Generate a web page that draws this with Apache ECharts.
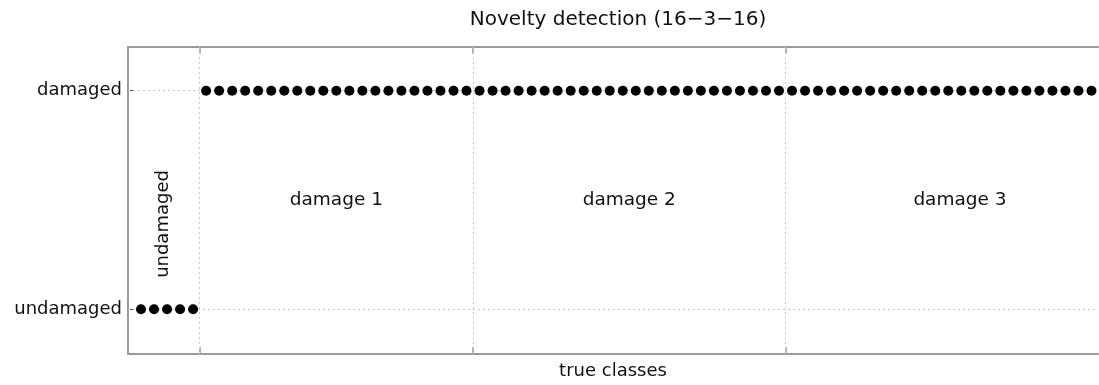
<!DOCTYPE html>
<html>
<head>
<meta charset="utf-8">
<script src="https://cdn.jsdelivr.net/npm/echarts@6/dist/echarts.min.js"></script>
<style>html,body{margin:0;padding:0;background:#fff}#c{width:1099px;height:385px}</style>
</head>
<body>
<div id="c"></div>
<script>
// Data
var titleText = 'Novelty detection (16\u22123\u221216)';
var xAxisName = 'true classes';
var yTickLabels = ['undamaged', 'damaged'];
var yTickValues = [0, 1];
var classNames = ['undamaged', 'damage 1', 'damage 2', 'damage 3'];
var classCounts = [5, 21, 24, 24];
var classBoundaries = [5.5, 26.5, 50.5];
var classLabelX = [2.75, 16, 38.5, 63.9];
var classLabelY = [0.39, 0.5, 0.5, 0.5];
// predicted class (0 = undamaged, 1 = damaged) for each sample 1..74
var predicted = [
  0,0,0,0,0,
  1,1,1,1,1,1,1,1,1,1,1,1,1,1,1,1,1,1,1,1,1,
  1,1,1,1,1,1,1,1,1,1,1,1,1,1,1,1,1,1,1,1,1,1,1,1,
  1,1,1,1,1,1,1,1,1,1,1,1,1,1,1,1,1,1,1,1,1,1,1,1
];

var pts = predicted.map(function (v, i) { return [i + 1, v]; });
var axisGray = '#9a9a9a';
var textColor = '#111';
var font = 'DejaVu Sans';

var gridLines = classBoundaries.map(function (b) { return { xAxis: b }; })
  .concat(yTickValues.map(function (v) { return { yAxis: v }; }));

var chart = echarts.init(document.getElementById('c'));
chart.setOption({
  animation: false,
  title: {
    text: titleText, left: 613, top: 5, textAlign: 'center',
    textStyle: { fontFamily: font, fontSize: 20, fontWeight: 'normal', color: textColor }
  },
  grid: { left: 128, top: 47, right: 1, bottom: 30 },
  xAxis: [{
    type: 'value', min: 0, max: 74.5, position: 'bottom',
    name: xAxisName, nameLocation: 'middle', nameGap: 8,
    nameTextStyle: { fontFamily: font, fontSize: 18, color: textColor, verticalAlign: 'top' },
    axisLine: { show: true, onZero: false, lineStyle: { color: axisGray, width: 2 } },
    axisTick: { show: true, inside: true, length: 7, customValues: classBoundaries, lineStyle: { color: axisGray, width: 1.5 } },
    axisLabel: { show: false },
    splitLine: { show: false }
  }, {
    type: 'value', min: 0, max: 74.5, position: 'top',
    axisLine: { show: true, onZero: false, lineStyle: { color: axisGray, width: 2 } },
    axisTick: { show: true, inside: true, length: 7, customValues: classBoundaries, lineStyle: { color: axisGray, width: 1.5 } },
    axisLabel: { show: false },
    splitLine: { show: false }
  }],
  yAxis: {
    type: 'value', min: -0.205, max: 1.2,
    axisLine: { show: true, onZero: false, lineStyle: { color: axisGray, width: 2 } },
    axisTick: { show: true, inside: true, length: 7, customValues: yTickValues, lineStyle: { color: '#555', width: 1 } },
    axisLabel: {
      show: true, customValues: yTickValues, margin: 6,
      fontFamily: font, fontSize: 18, color: textColor,
      formatter: function (v) { return yTickLabels[yTickValues.indexOf(Math.round(v))]; }
    },
    splitLine: { show: false }
  },
  series: [{
    type: 'scatter', data: pts, symbol: 'circle', symbolSize: 10,
    itemStyle: { color: '#000', opacity: 1 }, z: 5,
    markLine: {
      silent: true, symbol: 'none', label: { show: false },
      lineStyle: { color: '#c8c8c8', type: [2, 3], width: 1, opacity: 1 },
      data: gridLines, z: 1
    }
  }, {
    type: 'scatter', symbolSize: 0, silent: true,
    itemStyle: { opacity: 1 },
    data: classNames.slice(1).map(function (n, i) { return { value: [classLabelX[i + 1], classLabelY[i + 1]], name: n }; }),
    label: { show: true, position: 'inside', formatter: '{b}', fontFamily: font, fontSize: 18.5, color: textColor, opacity: 1 }
  }, {
    type: 'scatter', symbolSize: 0, silent: true,
    itemStyle: { opacity: 1 },
    data: [{ value: [classLabelX[0], classLabelY[0]], name: classNames[0] }],
    label: { show: true, position: 'inside', rotate: 90, formatter: '{b}', fontFamily: font, fontSize: 18, color: textColor, opacity: 1 }
  }]
});
</script>
</body>
</html>
